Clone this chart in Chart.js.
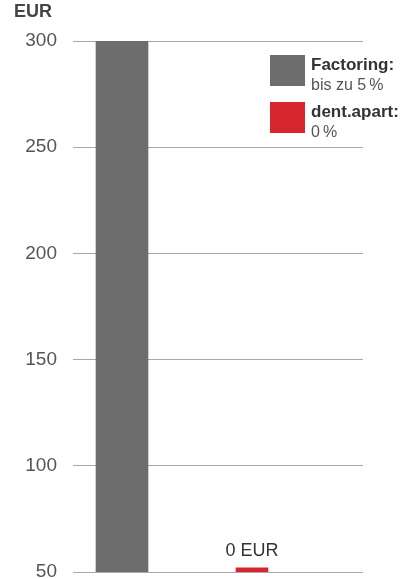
<!DOCTYPE html>
<html>
<head>
<meta charset="utf-8">
<script src="https://cdn.jsdelivr.net/npm/chart.js@4"></script>
<style>
  html, body { margin: 0; padding: 0; background: #fff; }
  #wrap { width: 401px; height: 579px; position: relative; }
</style>
</head>
<body>
<div id="wrap"><canvas id="chart"></canvas></div>
<script>
// --- data ---
const categories = ['Factoring:', 'dent.apart:'];
const legendNotes = ['bis zu 5\u2009%', '0\u2009%'];
const xPositions = [1, 2];
const values = [300, 52];
const valueLabels = ['', '0 EUR'];
const yTicks = [50, 100, 150, 200, 250, 300];
const colors = ['#6d6d6d', '#d7262d'];

const FONT = '"Liberation Sans", Arial, sans-serif';

// header, legend and value label drawn on the canvas
const extras = {
  id: 'extras',
  afterDraw(chart) {
    const c = chart.ctx;
    c.save();
    c.fillStyle = '#444';
    c.font = 'bold 18px ' + FONT;
    c.textAlign = 'left';
    c.textBaseline = 'alphabetic';
    c.fillText('EUR', 14, 17);

    // legend
    categories.forEach((name, i) => {
      const top = 55 + i * 47;
      c.fillStyle = colors[i];
      c.fillRect(270, top, 35, 31);
      c.fillStyle = '#333';
      c.font = 'bold 17px ' + FONT;
      c.fillText(name, 311, top + 15);
      c.fillStyle = '#555';
      c.font = '16px ' + FONT;
      c.fillText(legendNotes[i], 311, top + 35);
    });

    // value labels above bars
    chart.data.datasets.forEach((ds, i) => {
      if (!valueLabels[i]) return;
      const bar = chart.getDatasetMeta(i).data[0];
      c.fillStyle = '#333';
      c.font = '18px ' + FONT;
      c.textAlign = 'center';
      c.fillText(valueLabels[i], bar.x, bar.y - 12);
    });
    c.restore();
  }
};

new Chart(document.getElementById('chart'), {
  type: 'bar',
  data: {
    datasets: categories.map((name, i) => ({
      label: name,
      data: [{ x: xPositions[i], y: values[i] }],
      backgroundColor: colors[i],
      barThickness: i === 0 ? 52 : 32,
      grouped: false,
    })),
  },
  options: {
    responsive: true,
    maintainAspectRatio: false,
    animation: false,
    layout: { padding: { top: 41, right: 38, bottom: 7, left: 0 } },
    plugins: {
      legend: { display: false },
      tooltip: { enabled: false },
    },
    scales: {
      x: {
        type: 'linear',
        offset: false,
        min: 0.623,
        max: 2.854,
        display: false,
      },
      y: {
        min: 50,
        max: 300,
        afterBuildTicks: (scale) => { scale.ticks = yTicks.map((v) => ({ value: v })); },
        afterFit: (scale) => {
          scale.width = 73;
          scale.paddingTop = 0;
          scale.paddingBottom = 0;
        },
        border: { display: false },
        grid: { color: '#a8a8a8', drawTicks: false, lineWidth: 1 },
        ticks: {
          color: '#555',
          padding: 16,
          font: { family: FONT, size: 19 },
        },
      },
    },
  },
  plugins: [extras],
});
</script>
</body>
</html>
